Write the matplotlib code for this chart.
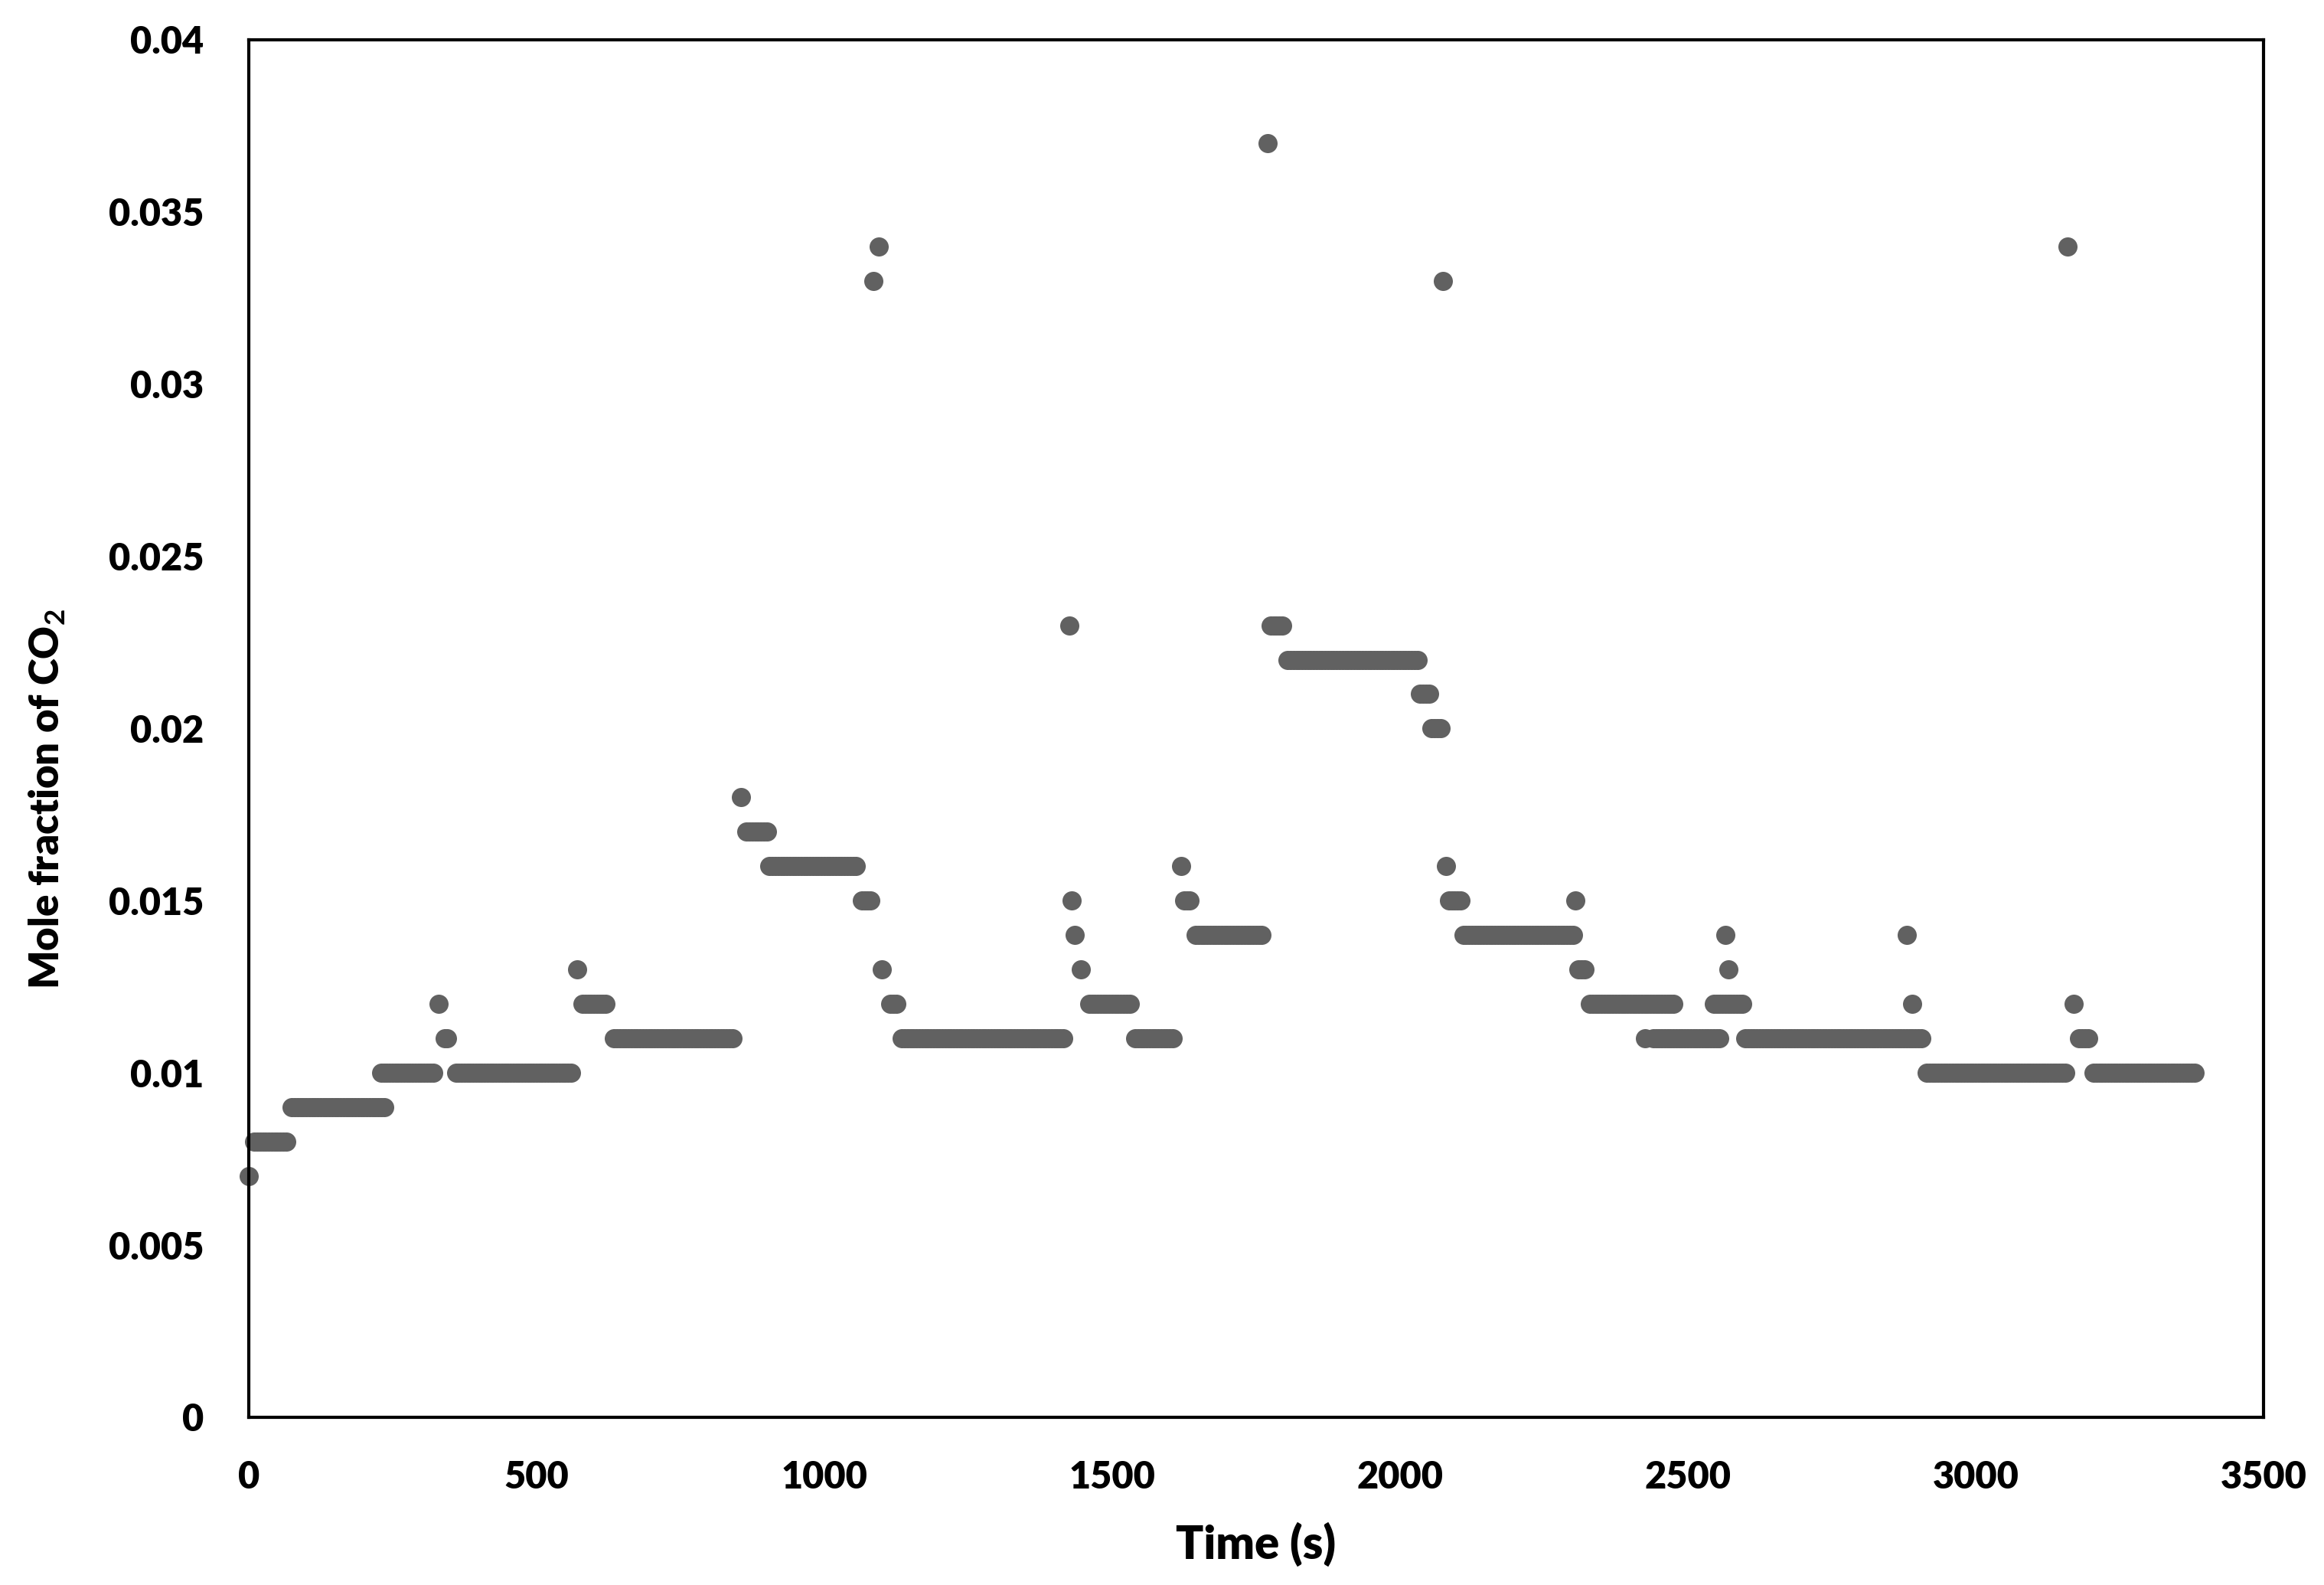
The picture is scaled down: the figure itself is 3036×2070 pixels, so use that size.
import numpy as np
import matplotlib
matplotlib.use("Agg")
import matplotlib.pyplot as plt

plt.rcParams['font.family'] = ['Lato', 'DejaVu Sans']
plt.rcParams['font.weight'] = 'bold'
plt.rcParams['mathtext.fontset'] = 'custom'
plt.rcParams['mathtext.rm'] = 'Lato:bold'
plt.rcParams['mathtext.it'] = 'Lato:bold'
plt.rcParams['mathtext.bf'] = 'Lato:bold'

# Runs of constant readings: start time, end time (s), mole fraction
seg_start = [0, 10, 75, 230, 330, 340, 360, 570, 580, 635,
             855, 865, 905, 1065, 1085, 1095, 1100, 1115, 1135,
             1425, 1430, 1435, 1445, 1460, 1540, 1620, 1625, 1645,
             1770, 1775, 1805, 2035, 2055, 2075, 2080, 2085, 2110,
             2305, 2310, 2330, 2425, 2440, 2545, 2565, 2570, 2600,
             2880, 2890, 2915, 3160, 3170, 3180, 3205]
seg_end = [0, 65, 235, 320, 330, 345, 560, 570, 620, 840,
           855, 900, 1055, 1080, 1085, 1095, 1100, 1125, 1415,
           1425, 1430, 1435, 1445, 1530, 1605, 1620, 1635, 1760,
           1770, 1795, 2030, 2050, 2070, 2075, 2080, 2105, 2300,
           2305, 2320, 2475, 2425, 2555, 2595, 2565, 2570, 2905,
           2880, 2890, 3155, 3160, 3170, 3195, 3380]
seg_value = [0.007, 0.008, 0.009, 0.010, 0.012, 0.011, 0.010, 0.013, 0.012, 0.011,
             0.018, 0.017, 0.016, 0.015, 0.033, 0.034, 0.013, 0.012, 0.011,
             0.023, 0.015, 0.014, 0.013, 0.012, 0.011, 0.016, 0.015, 0.014,
             0.037, 0.023, 0.022, 0.021, 0.020, 0.033, 0.016, 0.015, 0.014,
             0.015, 0.013, 0.012, 0.011, 0.011, 0.012, 0.014, 0.013, 0.011,
             0.014, 0.012, 0.010, 0.034, 0.012, 0.011, 0.010]
sample_step = 5  # seconds between logged readings

x_ticks = [0, 500, 1000, 1500, 2000, 2500, 3000, 3500]
y_ticks = [0, 0.005, 0.01, 0.015, 0.02, 0.025, 0.03, 0.035, 0.04]
y_tick_labels = ['0', '0.005', '0.01', '0.015', '0.02', '0.025', '0.03', '0.035', '0.04']

times, values = [], []
for s, e, v in zip(seg_start, seg_end, seg_value):
    tt = np.arange(s, e + 1, sample_step)
    times.extend(tt.tolist())
    values.extend([v] * len(tt))

fig = plt.figure(figsize=(30.36, 20.70), dpi=100)
ax = fig.add_axes([0.107, 0.1058, 0.867, 0.8691])

ax.plot(times, values, linestyle='none', marker='o', markersize=18,
        color='#616161', markeredgecolor='none', clip_on=False)

ax.set_xlim(0, 3500)
ax.set_ylim(0, 0.04)
ax.set_xticks(x_ticks)
ax.set_xticklabels([str(v) for v in x_ticks])
ax.set_yticks(y_ticks)
ax.set_yticklabels(y_tick_labels)
ax.tick_params(axis='both', length=0, labelsize=35, colors='black')
ax.tick_params(axis='y', pad=42)
ax.tick_params(axis='x', pad=40)
for lab in ax.get_xticklabels() + ax.get_yticklabels():
    lab.set_fontweight('heavy')

for sp in ax.spines.values():
    sp.set_linewidth(3.0)
    sp.set_color('black')

ax.set_xlabel('Time (s)', fontsize=43, fontweight='heavy')
ax.xaxis.set_label_coords(0.5, -0.0923)
ax.xaxis.label.set_va('center')
ax.set_ylabel('Mole fraction of CO$_{2}$', fontsize=38, fontweight='heavy')
ax.yaxis.set_label_coords(-0.0999, 0.449)
ax.yaxis.label.set_va('center')
ax.yaxis.label.set_ha('center')

fig.savefig('out.png', dpi=100, facecolor='white')
